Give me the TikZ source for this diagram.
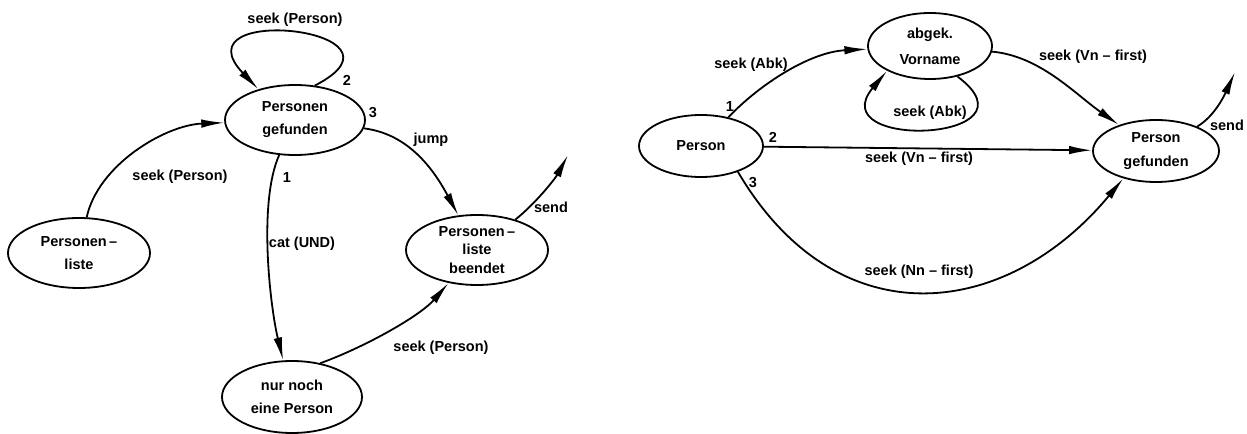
\documentclass[tikz,border=0pt]{standalone}
\usepackage{fontspec}
\setmainfont{Liberation Sans}
\usepackage{tikz}
\usetikzlibrary{shapes.geometric,arrows.meta}

\begin{document}
\begin{tikzpicture}[>={Latex[length=23bp,width=8.5bp]},line join=bevel,line width=1.8bp,
  state/.style={ellipse,draw,inner sep=0pt,align=center,font=\bfseries\fontsize{14.5bp}{23bp}\selectfont},
  lbl/.style={inner sep=0pt,font=\bfseries\fontsize{14.5bp}{17bp}\selectfont}]
\useasboundingbox (0bp,0bp) rectangle (1247bp,434bp);
%%
\node (Personenliste) at (79bp,181bp) [state,minimum width=142bp,minimum height=70bp] {Personen\,--\\liste};
  \node (Personengefunden) at (295bp,314bp) [state,minimum width=140bp,minimum height=70bp] {Personen\\gefunden};
  \node (Personenlistebeendet) at (477bp,184bp) [state,minimum width=142bp,minimum height=70bp,font=\bfseries\fontsize{14.5bp}{18.5bp}\selectfont] {Personen\,--\\liste\\beendet};
  \node (nurnocheinePerson) at (292bp,37bp) [state,minimum width=140bp,minimum height=72bp] {nur noch\\eine Person};
  \coordinate (sendL) at (568bp,279bp);
  \draw [->] (Personenliste) ..controls (98bp,269bp) and (165bp,309bp)  .. (Personengefunden);
  \draw [->] (Personengefunden.60) ..controls (425bp,405bp) and (175bp,432bp)  .. (Personengefunden.140);
  \draw [->] (Personengefunden) ..controls (410bp,300bp) and (435bp,262bp)  .. (Personenlistebeendet);
  \draw [->] (Personengefunden) ..controls (258bp,232bp) and (270bp,128bp)  .. (nurnocheinePerson);
  \draw [->] (nurnocheinePerson.50) ..controls (365bp,87bp) and (420bp,118bp)  .. (Personenlistebeendet);
  \draw [->] (Personenlistebeendet) ..controls (535bp,230bp) and (555bp,255bp)  .. (sendL);
  \node (seekPerson-loop) at (295bp,414bp) [lbl] {seek (Person)};
  \node (n2-left) at (347bp,354bp) [lbl] {2};
  \node (n3-left) at (373bp,321bp) [lbl] {3};
  \node (n1-left) at (287bp,256bp) [lbl] {1};
  \node (jump) at (431bp,294bp) [lbl] {jump};
  \node (catUND) at (302bp,190bp) [lbl] {cat (UND)};
  \node (seekPerson-in) at (180bp,257bp) [lbl] {seek (Person)};
  \node (seekPerson-out) at (441bp,86bp) [lbl] {seek (Person)};
  \node (send-left) at (551bp,227bp) [lbl] {send};
%
\node (Person) at (701bp,288bp) [state,minimum width=124bp,minimum height=62bp] {Person};
  \node (abgekVorname) at (930bp,388bp) [state,minimum width=124bp,minimum height=66bp,font=\bfseries\fontsize{14.5bp}{26bp}\selectfont] {abgek.\\Vorname};
  \node (Persongefunden) at (1156bp,283bp) [state,minimum width=126bp,minimum height=62bp,font=\bfseries\fontsize{14.5bp}{24bp}\selectfont] {Person\\gefunden};
  \coordinate (sendR) at (1235bp,362bp);
  \draw [->] (Person) ..controls (760bp,350bp) and (810bp,382bp)  .. (abgekVorname);
  \draw [->] (Person) -- (Persongefunden);
  \draw [->] (Person.-35) ..controls (837bp,94bp) and (1006bp,114bp)  .. (Persongefunden.220);
  \draw [->] (abgekVorname) ..controls (1040bp,378bp) and (1075bp,340bp)  .. (Persongefunden);
  \draw [->] (abgekVorname.-48) ..controls (1045bp,292bp) and (820bp,283bp)  .. (abgekVorname.210);
  \draw [->] (Persongefunden) ..controls (1215bp,318bp) and (1225bp,340bp)  .. (sendR);
  \node (n1-right) at (730bp,327bp) [lbl] {1};
  \node (seekAbk-in) at (751bp,369bp) [lbl] {seek (Abk)};
  \node (n2-right) at (773bp,297bp) [lbl] {2};
  \node (n3-right) at (753bp,251bp) [lbl] {3};
  \node (seekVnfirst-mid) at (919bp,275bp) [lbl] {seek (Vn -- first)};
  \node (seekNnfirst) at (919bp,162bp) [lbl] {seek (Nn -- first)};
  \node (seekAbk-loop) at (930bp,321bp) [lbl] {seek (Abk)};
  \node (seekVnfirst-top) at (1093bp,377bp) [lbl] {seek (Vn -- first)};
  \node (send-right) at (1227bp,309bp) [lbl] {send};
%
\end{tikzpicture}
\end{document}
